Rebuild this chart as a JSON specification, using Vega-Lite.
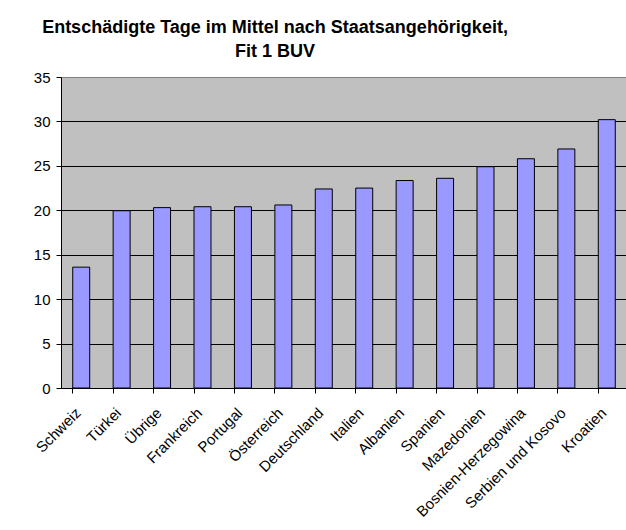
{
  "$schema": "https://vega.github.io/schema/vega-lite/v6.json",
  "autosize": {"type": "none"},
  "padding": {"left": 61, "top": 77, "right": 0, "bottom": 142},
  "width": 566,
  "height": 311,
  "background": "white",
  "title": {
    "text": ["Entschädigte Tage im Mittel nach Staatsangehörigkeit,", "Fit 1 BUV"],
    "anchor": "middle",
    "frame": "group",
    "dx": -69,
    "baseline": "bottom",
    "offset": -9,
    "lineHeight": 24,
    "font": "Liberation Sans",
    "fontSize": 18,
    "fontWeight": "bold",
    "color": "black"
  },
  "data": {
    "values": [
      {"land": "Schweiz", "tage": 13.6},
      {"land": "Türkei", "tage": 19.95},
      {"land": "Übrige", "tage": 20.3},
      {"land": "Frankreich", "tage": 20.4},
      {"land": "Portugal", "tage": 20.4},
      {"land": "Österreich", "tage": 20.6},
      {"land": "Deutschland", "tage": 22.4},
      {"land": "Italien", "tage": 22.5},
      {"land": "Albanien", "tage": 23.35},
      {"land": "Spanien", "tage": 23.6},
      {"land": "Mazedonien", "tage": 24.9},
      {"land": "Bosnien-Herzegowina", "tage": 25.8},
      {"land": "Serbien und Kosovo", "tage": 26.9},
      {"land": "Kroatien", "tage": 30.2}
    ]
  },
  "mark": {"type": "bar", "fill": "#9999FF", "stroke": "black", "strokeWidth": 1},
  "encoding": {
    "x": {
      "field": "land",
      "type": "nominal",
      "sort": null,
      "scale": {"paddingInner": 0.58, "paddingOuter": 0.29},
      "axis": {
        "title": null,
        "labelAngle": -45,
        "labelAlign": "right",
        "labelBaseline": "middle",
        "labelFont": "Liberation Sans",
        "labelFontSize": 15,
        "labelColor": "black",
        "labelPadding": 17,
        "labelOffset": -3,
        "tickSize": 5,
        "tickColor": "black",
        "bandPosition": 0,
        "domainColor": "black",
        "grid": false
      }
    },
    "y": {
      "field": "tage",
      "type": "quantitative",
      "scale": {"domain": [0, 35], "nice": false},
      "axis": {
        "title": null,
        "values": [0, 5, 10, 15, 20, 25, 30, 35],
        "labelFont": "Liberation Sans",
        "labelFontSize": 15,
        "labelColor": "black",
        "labelPadding": 6,
        "tickSize": 5,
        "tickColor": "black",
        "domainColor": "black",
        "grid": true,
        "gridColor": {"condition": {"test": "datum.value === 35", "value": "#808080"}, "value": "black"},
        "gridOpacity": 1
      }
    }
  },
  "config": {
    "view": {"fill": "#C0C0C0", "stroke": null}
  }
}
